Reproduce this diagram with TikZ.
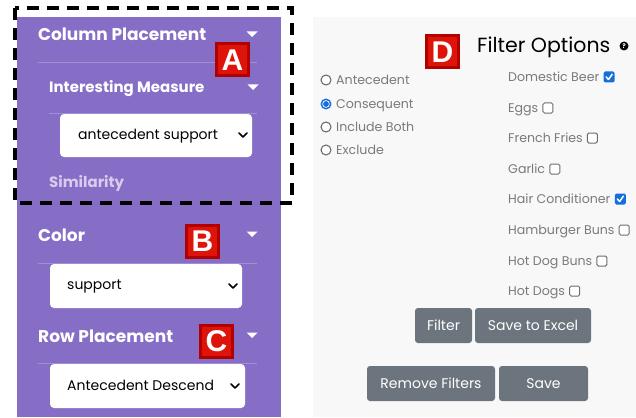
\documentclass[tikz,border=0pt]{standalone}
\usepackage{fontspec}
\setmainfont{Poppins}
\newfontfamily\labfont{Liberation Sans}
\usetikzlibrary{positioning}
\definecolor{panel}{RGB}{134,110,198}
\definecolor{sepline}{RGB}{160,142,214}
\definecolor{simcol}{RGB}{214,204,238}
\definecolor{rightbg}{RGB}{248,248,249}
\definecolor{txtgray}{RGB}{122,122,122}
\definecolor{btngray}{RGB}{108,117,125}
\definecolor{labred}{RGB}{222,20,10}
\definecolor{labdark}{RGB}{178,0,0}
\definecolor{chkblue}{RGB}{20,110,220}
\tikzset{
  hdr/.style={anchor=west,inner sep=0pt,text height=12pt,text depth=0pt,text=white,font=\bfseries\fontsize{17}{17}\selectfont},
  subhdr/.style={anchor=west,inner sep=0pt,text height=10.5pt,text depth=0pt,text=white,font=\bfseries\fontsize{15}{15}\selectfont},
  selbox/.style={draw=none,fill=white,rounded corners=4pt},
  seltext/.style={anchor=west,inner sep=0pt,text height=7.7pt,text depth=0pt,text=black,font=\fontsize{14}{14}\selectfont},
  sepl/.style={draw=sepline,line width=0.8pt},
  chev/.style={draw=black,line width=1.6pt,line cap=round,line join=round},
  labbox/.style={fill=labred,draw=labdark,line width=3pt,minimum width=32pt,minimum height=32pt,inner sep=0pt,text=white,font=\labfont\bfseries\fontsize{30}{30}\selectfont},
  opt/.style={anchor=west,inner sep=0pt,text height=8.8pt,text depth=0pt,text=txtgray,font=\fontsize{12.6}{12.6}\selectfont},
  btn/.style={fill=btngray,rounded corners=3pt,text=white,font=\fontsize{14}{14}\selectfont,inner sep=0pt},
  radio/.style={draw=txtgray!80!black,line width=1pt},
  chkbox/.style={draw=txtgray!90!black,fill=white,line width=1pt,rounded corners=1.5pt,minimum width=10pt,minimum height=10pt,inner sep=0pt},
  chkon/.style={fill=chkblue,rounded corners=1.5pt,minimum width=11pt,minimum height=11pt,inner sep=0pt},
  tick/.style={draw=white,line width=1.5pt,line cap=round,line join=round},
}
\newcommand\wtri[2]{\fill[white] (#1-5.5,#2-2.5) -- (#1+5.5,#2-2.5) -- (#1,#2+3) -- cycle;}
\newcommand\chevr[2]{\draw[chev] (#1-4,#2-2) -- (#1,#2+2) -- (#1+4,#2-2);}
\begin{document}
\begin{tikzpicture}[x=1pt,y=-1pt]
\useasboundingbox (0,0) rectangle (636,417);
\fill[white] (0,0) rectangle (636,417);
% left panel
\fill[panel] (17,17) rectangle (281,417);
% right panel
\fill[rightbg] (313,17) rectangle (636,417);

% ---- Column placement
\node[hdr] (colp) at (38,34.5) {Column Placement};
\wtri{252}{34}
\draw[sepl] (38,62) -- (257,62);
\node[subhdr] (intm) at (49,87) {Interesting Measure};
\wtri{253}{87}
\draw[sepl] (49,113) -- (257,113);
\fill[selbox] (60,114) rectangle (252,157);
\node[seltext] (antsup) at (78,136) {antecedent support};
\chevr{243}{135}
\node[subhdr,text=simcol] (sim) at (49,182) {Similarity};

% ---- Color
\node[hdr] (colr) at (38,235) {Color};
\wtri{252}{234}
\draw[sepl] (38,263) -- (257,263);
\fill[selbox] (50,264) rectangle (242,308);
\node[seltext] (supp) at (67,286) {support};
\chevr{233}{286}

% ---- Row placement
\node[hdr] (rowp) at (38,336) {Row Placement};
\wtri{252}{335}
\draw[sepl] (38,363) -- (257,363);
\fill[selbox] (50,364) rectangle (245,408);
\node[seltext,text height=9.9pt] (antdesc) at (67,386) {Antecedent Descend};
\chevr{235}{386}

% dashed frame
\draw[line width=4pt,dash pattern=on 12pt off 8pt] (15,8) rectangle (292,203);

% labels
\node[labbox] (labA) at (232.5,60) {A};
\node[labbox] (labB) at (202.5,241) {B};
\node[labbox] (labC) at (216.5,341) {C};
\node[labbox] (labD) at (442.5,52) {D};

% ---- Filter options
\node[anchor=west,inner sep=0pt,text height=14.5pt,text depth=0pt,font=\fontsize{20.5}{20.5}\selectfont] (fo) at (477,45) {Filter Options};
\fill[black] (624,46) circle (4.5);
\node[inner sep=0pt,text=white,font=\bfseries\fontsize{6.5}{6.5}\selectfont] (help) at (624,46.3) {?};

% radios
\draw[radio,fill=white] (326,80) circle (5);
\node[opt] (rA) at (336,80) {Antecedent};
\fill[chkblue] (326,104) circle (5.5);
\fill[white] (326,104) circle (3.8);
\fill[chkblue] (326,104) circle (2.9);
\node[opt] (rC) at (336,104) {Consequent};
\draw[radio,fill=white] (326,127) circle (5);
\node[opt] (rI) at (336,127) {Include Both};
\draw[radio,fill=white] (326,150) circle (5);
\node[opt] (rE) at (336,150) {Exclude};

% checkboxes
\node[opt] (c1) at (508,77) {Domestic Beer};
\node[chkon,right=4pt of c1] (k1) {};
\draw[tick] ([xshift=-3pt]k1.center) -- ([xshift=-0.7pt,yshift=-2.5pt]k1.center) -- ([xshift=3pt,yshift=2.8pt]k1.center);
\node[opt] (c2) at (508,108) {Eggs};
\node[chkbox,right=4pt of c2] (k2) {};
\node[opt] (c3) at (508,138) {French Fries};
\node[chkbox,right=4pt of c3] (k3) {};
\node[opt] (c4) at (508,169) {Garlic};
\node[chkbox,right=4pt of c4] (k4) {};
\node[opt] (c5) at (508,199) {Hair Conditioner};
\node[chkon,right=4pt of c5] (k5) {};
\draw[tick] ([xshift=-3pt]k5.center) -- ([xshift=-0.7pt,yshift=-2.5pt]k5.center) -- ([xshift=3pt,yshift=2.8pt]k5.center);
\node[opt] (c6) at (508,230) {Hamburger Buns};
\node[chkbox,right=4pt of c6] (k6) {};
\node[opt] (c7) at (508,261) {Hot Dog Buns};
\node[chkbox,right=4pt of c7] (k7) {};
\node[opt] (c8) at (508,291) {Hot Dogs};
\node[chkbox,right=4pt of c8] (k8) {};

% buttons
\node[btn,minimum width=57pt,minimum height=35pt] (bF) at (443.5,325.5) {Filter};
\node[btn,minimum width=116pt,minimum height=35pt] (bS) at (533,325.5) {Save to Excel};
\node[btn,minimum width=128pt,minimum height=35pt] (bR) at (431,383.5) {Remove Filters};
\node[btn,minimum width=89pt,minimum height=35pt] (bV) at (543.5,383.5) {Save};
\end{tikzpicture}
\end{document}
